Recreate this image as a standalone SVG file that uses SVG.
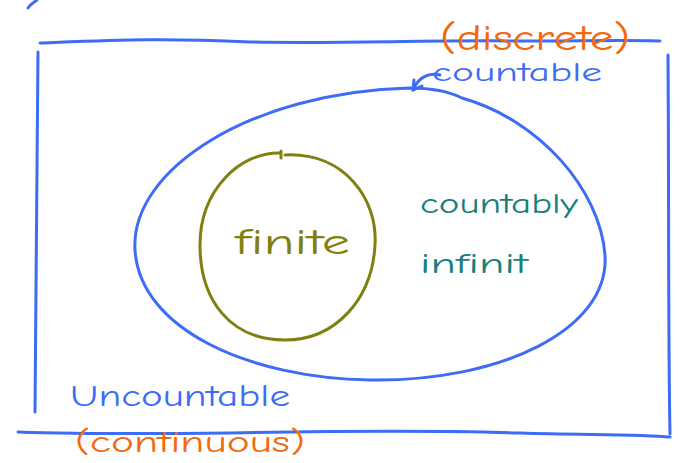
<svg xmlns="http://www.w3.org/2000/svg" width="680" height="463" viewBox="0 0 680 463">
<style>
.b{fill:none;stroke:#3d6cf5;stroke-width:3;stroke-linecap:round;stroke-linejoin:round}
.o{fill:none;stroke:#808010;stroke-width:3;stroke-linecap:round}
text{font-family:"Comic Neue","Open Sans","Liberation Sans",sans-serif}
.tb{fill:#3d6cf5}
.to{fill:#f26a10}
.tt{fill:#17807d}
.tol{fill:#808010}
</style>
<rect width="680" height="463" fill="#fff"/>
<g id="frame">
<path class="b" d="M28 8 C30 5 34 2 37 0"/>
<path class="b" d="M40 43 C120 40 160 38 250 42 C340 44 420 40 520 41 C580 41 630 40 660 41"/>
<path class="b" d="M38 52 C37 150 36 300 35 412"/>
<path class="b" d="M668 55 C669 180 668 330 670 434"/>
<path class="b" d="M18 432 C80 434 150 434 230 433 C330 431 430 430 520 433 C580 435 640 434 670 437"/>
</g>
<g id="countable-set">
<path class="b" d="M462 98 C540 120 600 190 605 255 C610 330 500 382 370 380 C250 378 140 330 135 250 C130 170 250 92 410 88 C430 88 450 92 462 98"/>
</g>
<g id="finite-set">
<path class="o" d="M285 155 C345 152 378 200 375 245 C372 300 335 340 285 340 C230 340 200 300 200 245 C200 190 240 152 280 153 M281 151 L281 158"/>
</g>
<g id="connectors">
<path class="b" d="M440 75 C428 72 418 78 413 90"/>
<path class="b" d="M413 90 L414 80 M413 90 L422 86"/>
</g>
<g id="labels">
<text class="to" x="440" y="50" font-size="36" textLength="190" lengthAdjust="spacingAndGlyphs">(discrete)</text>
<text class="tb" x="432" y="81" font-size="27" textLength="170" lengthAdjust="spacingAndGlyphs">countable</text>
<text class="tt" x="420" y="213" font-size="29" textLength="158" lengthAdjust="spacingAndGlyphs">countably</text>
<text class="tt" x="420" y="273" font-size="29" textLength="108" lengthAdjust="spacingAndGlyphs">infinit</text>
<text class="tol" x="235" y="254" font-size="36" textLength="115" lengthAdjust="spacingAndGlyphs">finite</text>
<text class="tb" x="70" y="406" font-size="31" textLength="220" lengthAdjust="spacingAndGlyphs">Uncountable</text>
<text class="to" x="75" y="452" font-size="30" textLength="230" lengthAdjust="spacingAndGlyphs">(continuous)</text>
</g>
</svg>
